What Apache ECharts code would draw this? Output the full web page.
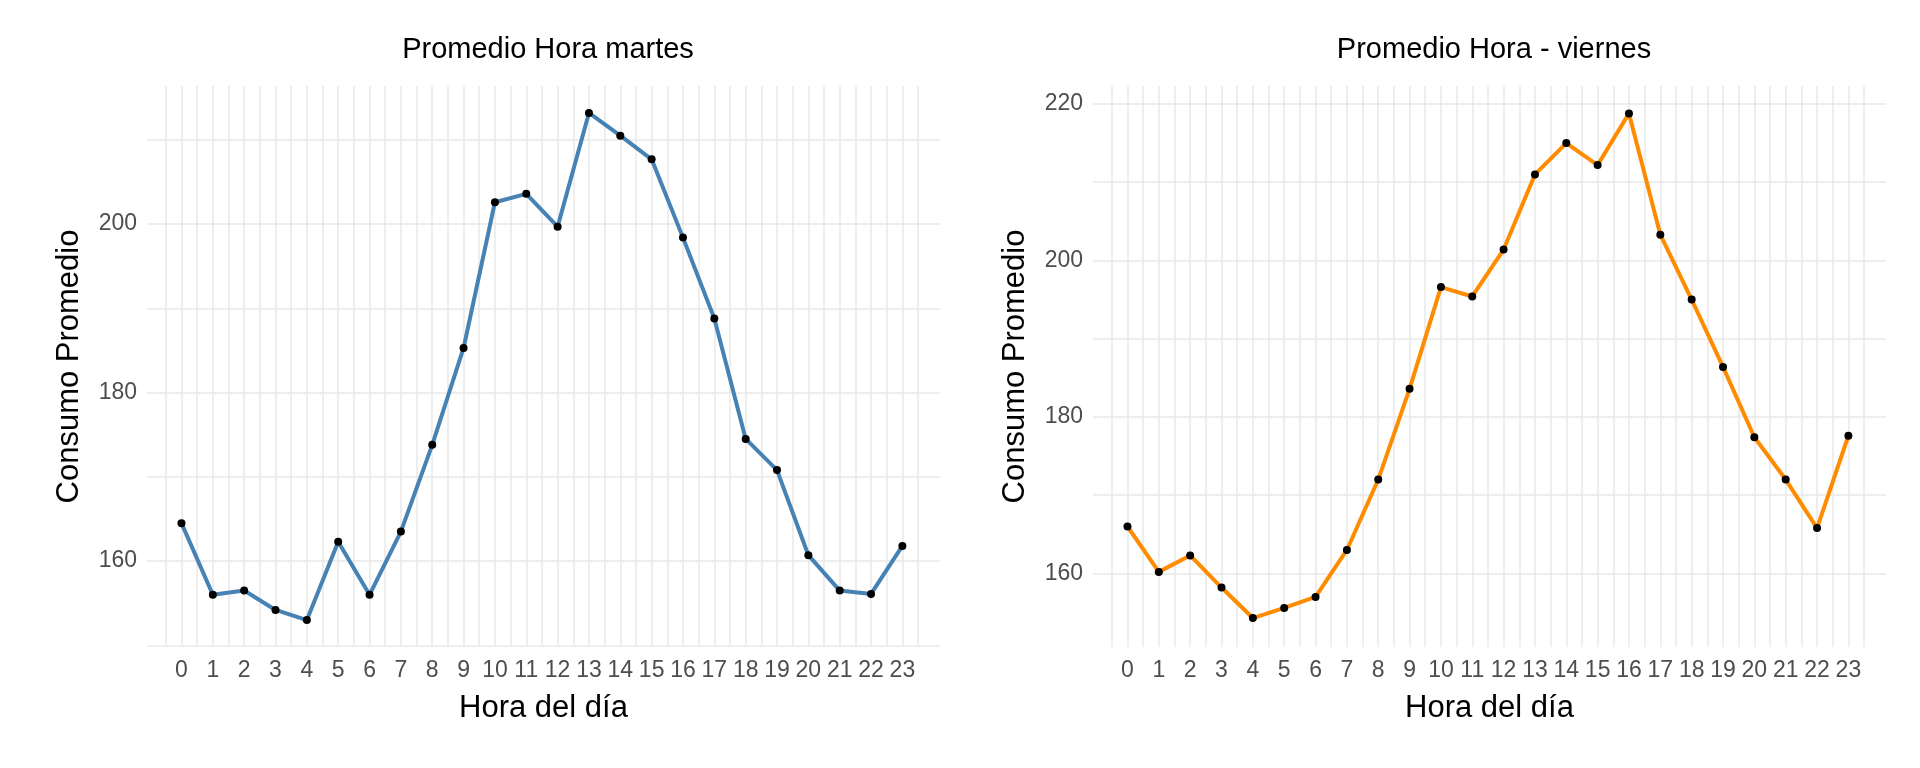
<!DOCTYPE html>
<html>
<head>
<meta charset="utf-8">
<script src="https://cdn.jsdelivr.net/npm/echarts@6/dist/echarts.min.js"></script>
<style>
html,body{margin:0;padding:0;background:#fff;}
#vis{width:1920px;height:768px;}
</style>
</head>
<body>
<div id="vis"></div>
<script>
// hours of the day
const horas = [0,1,2,3,4,5,6,7,8,9,10,11,12,13,14,15,16,17,18,19,20,21,22,23];
// mean consumption per hour, tuesday
const martes = [164.5,156,156.5,154.2,153,162.3,156,163.5,173.8,185.3,202.6,203.6,199.7,213.2,210.5,207.7,198.4,188.8,174.5,170.8,160.7,156.5,156.1,161.8];
// mean consumption per hour, friday
const viernes = [166,160.2,162.3,158.2,154.3,155.6,157,163,172,183.6,196.6,195.4,201.4,211,215,212.2,218.8,203.3,195,186.4,177.4,172,165.8,177.6];
const yLabelsMartes = [160,180,200];
const yGridMartes = [150,160,170,180,190,200,210];
const yLabelsViernes = [160,180,200,220];
const yGridViernes = [160,170,180,190,200,210,220];

const xGrid = [];
for (let v = -0.5; v <= 23.5; v += 0.5) xGrid.push(v);

const chart = echarts.init(document.getElementById('vis'), null, {renderer: 'canvas'});

function xAxis(i) {
  return {
    type: 'value', gridIndex: i, min: -1.1, max: 24.2,
    name: 'Hora del día', nameLocation: 'middle', nameGap: 46,
    nameTextStyle: {fontSize: 31, color: '#000', fontFamily: 'Liberation Sans'},
    axisLine: {show: false},
    axisTick: {show: false, customValues: xGrid},
    axisLabel: {customValues: horas, fontSize: 23, color: '#4d4d4d', margin: 12, fontFamily: 'Liberation Sans'},
    splitLine: {show: true, lineStyle: {color: '#e8e8e8', width: 1.5}}
  };
}
function yAxis(i, min, max, labels, grid) {
  return {
    type: 'value', gridIndex: i, min: min, max: max,
    name: 'Consumo Promedio', nameLocation: 'middle', nameGap: 62,
    nameTextStyle: {fontSize: 31, color: '#000', fontFamily: 'Liberation Sans'},
    axisLine: {show: false},
    axisTick: {show: false, customValues: grid},
    axisLabel: {customValues: labels, fontSize: 23, color: '#4d4d4d', margin: 10, fontFamily: 'Liberation Sans'},
    splitLine: {show: true, lineStyle: {color: '#e8e8e8', width: 1.5}}
  };
}
function serie(i, vals, color) {
  return {
    type: 'line', xAxisIndex: i, yAxisIndex: i,
    data: horas.map((h, k) => [h, vals[k]]),
    lineStyle: {color: color, width: 4},
    itemStyle: {color: '#000'},
    symbol: 'circle', symbolSize: 8, showSymbol: true,
    emphasis: {disabled: true}, z: 3
  };
}

chart.setOption({
  animation: false,
  title: [
    {text: 'Promedio Hora martes', left: 543, top: 30, textAlign: 'center',
     textStyle: {fontSize: 29, fontWeight: 'normal', color: '#000', fontFamily: 'Liberation Sans'}},
    {text: 'Promedio Hora - viernes', left: 1489, top: 30, textAlign: 'center',
     textStyle: {fontSize: 29, fontWeight: 'normal', color: '#000', fontFamily: 'Liberation Sans'}}
  ],
  grid: [
    {left: 147, width: 793, top: 86, height: 561},
    {left: 1093, width: 793, top: 86, height: 561}
  ],
  xAxis: [xAxis(0), xAxis(1)],
  yAxis: [yAxis(0, 149.8, 216.4, yLabelsMartes, yGridMartes), yAxis(1, 150.6, 222.3, yLabelsViernes, yGridViernes)],
  series: [serie(0, martes, '#4682B4'), serie(1, viernes, '#FF8C00')]
});
</script>
</body>
</html>
